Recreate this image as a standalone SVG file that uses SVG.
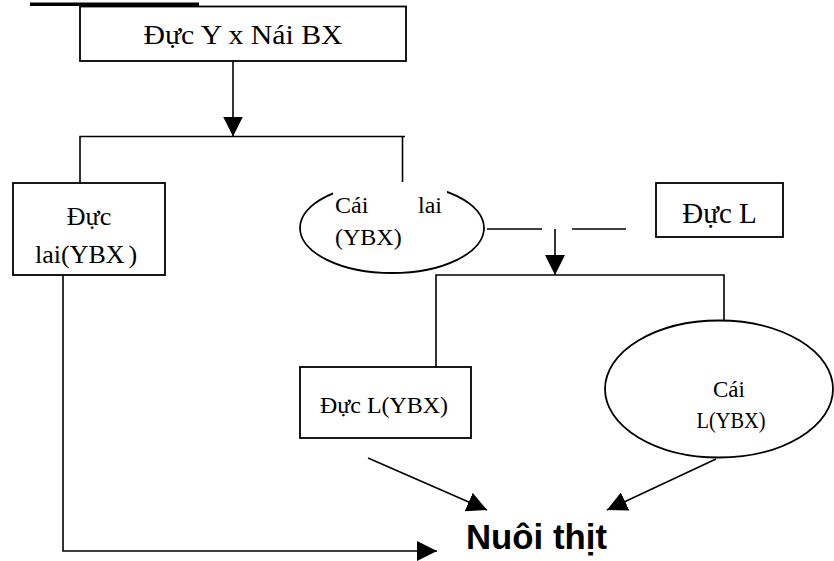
<svg xmlns="http://www.w3.org/2000/svg" width="834" height="561" viewBox="0 0 834 561">
  <style>
    .box { fill: #fff; stroke: #000; stroke-width: 1.8; }
    .line { fill: none; stroke: #000; stroke-width: 1.6; }
    .arrow { fill: none; stroke: #000; stroke-width: 1.6; marker-end: url(#head); }
    .t { font-family: "Liberation Serif", "Times New Roman", serif; fill: #000; }
    .big { font-family: "Liberation Sans", Arial, sans-serif; font-weight: bold; fill: #000; }
  </style>
  <defs>
    <marker id="head" markerUnits="userSpaceOnUse" markerWidth="20" markerHeight="20" refX="20" refY="10" orient="auto">
      <path d="M0,0 L20,10 L0,20 z" fill="#000"/>
    </marker>
  </defs>
  <rect width="834" height="561" fill="#fff"/>

  <!-- underline of the heading above the chart -->
  <rect x="30" y="2.5" width="169" height="3.5" fill="#000"/>

  <!-- connectors -->
  <g id="connectors">
    <line class="arrow" x1="233" y1="61" x2="233" y2="136.5"/>
    <polyline class="line" points="80,183 80,136.5 405,136.5"/>
    <line class="line" x1="402.5" y1="136.5" x2="402.5" y2="185"/>
    <line class="line" x1="487" y1="229" x2="542" y2="229"/>
    <line class="line" x1="572" y1="229" x2="626" y2="229"/>
    <line class="arrow" x1="555" y1="229" x2="555" y2="275"/>
    <polyline class="line" points="436,367 436,275 724,275 724,321"/>
    <line class="arrow" x1="368" y1="458" x2="487" y2="510"/>
    <line class="arrow" x1="716" y1="459" x2="607" y2="510"/>
    <polyline class="arrow" points="63,275 63,551 437,551"/>
  </g>

  <g id="duc-y-nai-bx">
    <rect class="box" x="80" y="6.5" width="326" height="54.5"/>
    <text class="t" x="243" y="44" font-size="28" text-anchor="middle" textLength="199" lengthAdjust="spacingAndGlyphs">Đực Y x Nái BX</text>
  </g>

  <g id="duc-lai">
    <rect class="box" x="13" y="183" width="152" height="92"/>
    <text class="t" x="89" y="225" font-size="26" text-anchor="middle">Đực</text>
    <text class="t" x="35" y="263" font-size="26">lai(YBX<tspan dx="4">)</tspan></text>
  </g>

  <g id="cai-lai">
    <ellipse class="box" cx="392" cy="228" rx="92" ry="45"/>
    <rect x="333" y="182" width="114" height="68" fill="#fff"/>
    <text class="t" x="335" y="213" font-size="24">Cái</text>
    <text class="t" x="418" y="213" font-size="24">lai</text>
    <text class="t" x="335" y="245" font-size="24">(YBX)</text>
  </g>

  <g id="duc-l">
    <rect class="box" x="656" y="183" width="127" height="54"/>
    <text class="t" x="250.5" y="223" font-size="29" text-anchor="middle" transform="translate(469 0)">Đực L</text>
  </g>

  <g id="duc-l-ybx">
    <rect class="box" x="300" y="367" width="171" height="71"/>
    <text class="t" x="384" y="413" font-size="24" text-anchor="middle" textLength="128" lengthAdjust="spacingAndGlyphs">Đực L(YBX)</text>
  </g>

  <g id="cai-l-ybx">
    <ellipse class="box" cx="719" cy="389" rx="114" ry="68.5"/>
    <text class="t" x="729" y="397" font-size="23" text-anchor="middle">Cái</text>
    <text class="t" x="731" y="428" font-size="23" text-anchor="middle" textLength="69" lengthAdjust="spacingAndGlyphs">L(YBX)</text>
  </g>

  <g id="nuoi-thit">
    <text class="big" x="466" y="549" font-size="35" textLength="141" lengthAdjust="spacingAndGlyphs">Nuôi thịt</text>
  </g>
</svg>
